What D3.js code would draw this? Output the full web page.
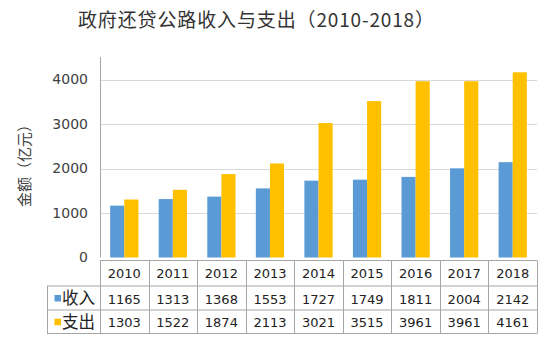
<!DOCTYPE html>
<html><head><meta charset="utf-8">
<script src="https://cdn.jsdelivr.net/npm/d3@7"></script>
<style>body{margin:0;background:#fff}svg{display:block}</style>
</head><body>
<script>
const years = ["2010","2011","2012","2013","2014","2015","2016","2017","2018"];
const income = [1165,1313,1368,1553,1727,1749,1811,2004,2142];
const expense = [1303,1522,1874,2113,3021,3515,3961,3961,4161];
const seriesNames = ["收入","支出"];
const colors = ["#5B9BD5","#FFC000"];
const yTicks = [0,1000,2000,3000,4000];
const title = "政府还贷公路收入与支出（2010-2018）";
const yTitle = "金额（亿元）";

(function(){
const W=550,H=347;
const font = "'Noto Sans CJK SC', sans-serif";
const numFont = "'DejaVu Sans', sans-serif";
const svg = d3.select("body").append("svg").attr("width",W).attr("height",H);
const pLeft=100,pRight=537,pTop=57,pBottom=257.5;
const x = d3.scaleBand().domain(years).range([pLeft,pRight]).paddingInner(0).paddingOuter(0);
const inner = d3.scaleBand().domain([0,1]).range([0,x.bandwidth()]).paddingOuter(0.72).paddingInner(0);
const y = d3.scaleLinear().domain([0,4000]).range([pBottom,79.5]);

svg.append("text").attr("x",256).attr("y",27).attr("text-anchor","middle")
  .attr("textLength",356).attr("lengthAdjust","spacing")
  .attr("font-family",font).attr("font-size",19).attr("fill","#333").text(title);

svg.append("g").selectAll("line").data(yTicks.filter(d=>d>0)).join("line")
  .attr("x1",pLeft).attr("x2",pRight).attr("y1",d=>Math.round(y(d))+0.5).attr("y2",d=>Math.round(y(d))+0.5)
  .attr("stroke","#D9D9D9").attr("stroke-width",1);

const ya = svg.append("g").attr("transform",`translate(${pLeft},0)`)
  .call(d3.axisLeft(y).tickValues(yTicks).tickFormat(d3.format("d")).tickSize(0).tickPadding(12));
ya.select(".domain").remove();
ya.selectAll("text").attr("font-family",numFont).attr("font-size",14).attr("fill","#404040");
svg.append("line").attr("x1",pLeft+0.5).attr("x2",pLeft+0.5).attr("y1",pTop).attr("y2",pBottom).attr("stroke","#A6A6A6");

svg.append("text").attr("transform",`translate(30,162) rotate(-90)`).attr("text-anchor","middle")
  .attr("font-family",font).attr("font-size",15).attr("fill","#404040").text(yTitle);

const data = [income,expense];
data.forEach((vals,si)=>{
  svg.append("g").selectAll("rect").data(years).join("rect")
    .attr("x",(d)=>x(d)+inner(si))
    .attr("width",inner.bandwidth())
    .attr("y",(d,i)=>y(vals[i]))
    .attr("height",(d,i)=>y(0)-y(vals[i]))
    .attr("fill",colors[si]);
});

const rowY=[260.5,286,310,333.5];
const tableLeft=47;
const g = svg.append("g");
const stroke="#A6A6A6";
g.append("line").attr("x1",pLeft).attr("x2",pRight).attr("y1",rowY[0]).attr("y2",rowY[0]).attr("stroke",stroke);
[1,2,3].forEach(k=>{
  g.append("line").attr("x1",tableLeft).attr("x2",pRight).attr("y1",rowY[k]).attr("y2",rowY[k]).attr("stroke",stroke);
});
years.forEach(d=>{
  g.append("line").attr("x1",Math.round(x(d))+0.5).attr("x2",Math.round(x(d))+0.5).attr("y1",rowY[0]).attr("y2",rowY[3]).attr("stroke",stroke);
});
g.append("line").attr("x1",pRight+0.5).attr("x2",pRight+0.5).attr("y1",rowY[0]).attr("y2",rowY[3]).attr("stroke",stroke);
g.append("line").attr("x1",tableLeft+0.5).attr("x2",tableLeft+0.5).attr("y1",rowY[1]).attr("y2",rowY[3]).attr("stroke",stroke);

g.selectAll(".yr").data(years).join("text").attr("x",d=>x(d)+x.bandwidth()/2).attr("y",278)
  .attr("text-anchor","middle").attr("font-family",numFont).attr("font-size",13).attr("fill","#222").text(d=>d);
data.forEach((vals,si)=>{
  const cy=(rowY[si+1]+rowY[si+2])/2;
  g.selectAll(".v"+si).data(years).join("text").attr("x",d=>x(d)+x.bandwidth()/2).attr("y",cy+5.5)
    .attr("text-anchor","middle").attr("font-family",numFont).attr("font-size",13).attr("fill","#222").text((d,i)=>vals[i]);
  g.append("rect").attr("x",tableLeft+7.5).attr("y",cy-3).attr("width",6.5).attr("height",6.5).attr("fill",colors[si]);
  g.append("text").attr("x",tableLeft+15).attr("y",cy+6).attr("font-family",font).attr("font-size",16.5).attr("fill","#222").text(seriesNames[si]);
});
})();
</script>
</body></html>
